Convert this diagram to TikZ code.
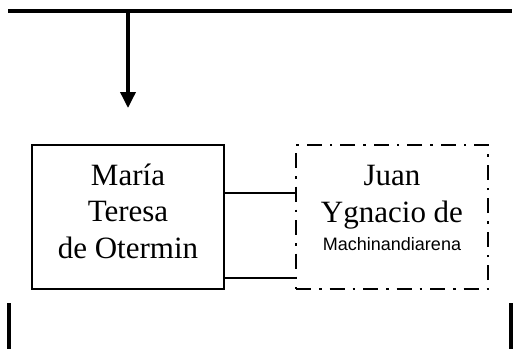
\documentclass[tikz,border=0pt]{standalone}
\usepackage{fontspec}
\setmainfont{Liberation Serif}
\setsansfont{Liberation Sans}
\usetikzlibrary{arrows.meta, positioning}
\newcommand{\surnamefont}{\sffamily\fontsize{18}{22}\selectfont}

\begin{document}
\begin{tikzpicture}[
  x=1pt, y=-1pt,
  person/.style={rectangle, draw=black, line width=1.8pt, inner sep=0pt,
    minimum width=192pt, text height=113pt, text depth=31pt, align=center,
    font=\fontsize{31}{36.5}\selectfont},
  spouse/.style={person, text height=105pt, text depth=39pt,
    dash pattern=on 15pt off 8pt on 2.5pt off 8pt},
  bar/.style={line width=4pt},
  tie/.style={line width=1.3pt},
]
\useasboundingbox (0,0) rectangle (517,349);

\coordinate (barL) at (8,11);
\coordinate (barR) at (512,11);
\coordinate (drop) at (128,11);
\coordinate (tip) at (128,108);

\node[name=maria, person] at (128,217) {María\\Teresa\\de Otermin};
\node[name=juan, spouse] at (392,217)
  {Juan\\Ygnacio de\\[-8.5pt]{\surnamefont Machinandiarena}};

\draw[bar] (barL) -- (barR);
\draw[line width=3.5pt, -{Triangle[width=15pt,length=16pt]}] (drop) -- (tip);

\draw[tie] ([yshift=24pt]maria.east) -- ([yshift=24pt]juan.west);
\draw[tie] ([yshift=-61pt]maria.east) -- ([yshift=-61pt]juan.west);

\coordinate (downL) at (8.5,303);
\coordinate (downR) at (511,303);
\draw[bar] (downL) -- (downL |- 0,349);
\draw[bar] (downR) -- (downR |- 0,349);
\end{tikzpicture}
\end{document}
